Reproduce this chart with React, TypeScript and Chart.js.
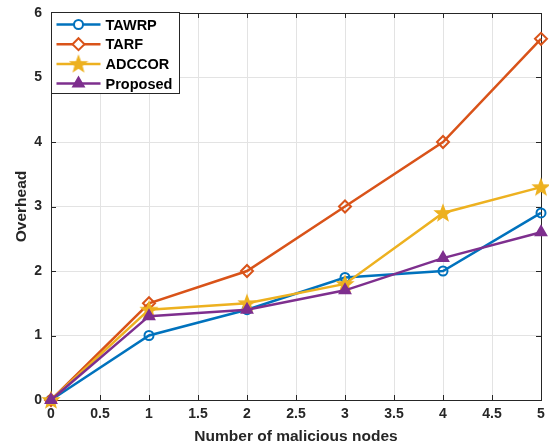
import React, { useEffect, useRef } from "react";
import { Chart, registerables } from "chart.js";

Chart.register(...registerables);

const X_VALUES = [0, 1, 2, 3, 4, 5];
const TAWRP = [0, 1.0, 1.4, 1.9, 2.0, 2.9];
const TARF = [0, 1.5, 2.0, 3.0, 4.0, 5.6];
const ADCCOR = [0, 1.4, 1.5, 1.8, 2.9, 3.3];
const PROPOSED = [0, 1.3, 1.4, 1.7, 2.2, 2.6];
const SERIES_NAMES = ["TAWRP", "TARF", "ADCCOR", "Proposed"];
const X_TITLE = "Number of malicious nodes";
const Y_TITLE = "Overhead";

const COLORS = ["#0072BD", "#D95319", "#EDB120", "#7E2F8E"];
const FONT = "'Liberation Sans', Arial, Helvetica, sans-serif";
const TEXT = "#262626";

function makeStar(color: string, r: number): HTMLCanvasElement {
  const size = Math.ceil(r * 2 + 4);
  const c = document.createElement("canvas");
  c.width = size;
  c.height = size;
  const ctx = c.getContext("2d")!;
  const cx = size / 2, cy = size / 2 + 0.5;
  ctx.beginPath();
  for (let i = 0; i < 10; i++) {
    const ang = -Math.PI / 2 + (i * Math.PI) / 5;
    const rr = i % 2 === 0 ? r : r * 0.42;
    const px = cx + rr * Math.cos(ang);
    const py = cy + rr * Math.sin(ang);
    if (i === 0) ctx.moveTo(px, py);
    else ctx.lineTo(px, py);
  }
  ctx.closePath();
  ctx.fillStyle = color;
  ctx.fill();
  ctx.strokeStyle = color;
  ctx.lineWidth = 1.5;
  ctx.lineJoin = "miter";
  ctx.stroke();
  return c;
}

function drawMarker(ctx: CanvasRenderingContext2D, kind: number, x: number, y: number, color: string, star: HTMLCanvasElement) {
  ctx.save();
  ctx.strokeStyle = color;
  ctx.lineWidth = 2;
  ctx.fillStyle = "#ffffff";
  if (kind === 0) {
    ctx.beginPath();
    ctx.arc(x, y, 4.5, 0, Math.PI * 2);
    ctx.fill();
    ctx.stroke();
  } else if (kind === 1) {
    const r = 6;
    ctx.beginPath();
    ctx.moveTo(x, y - r);
    ctx.lineTo(x + r, y);
    ctx.lineTo(x, y + r);
    ctx.lineTo(x - r, y);
    ctx.closePath();
    ctx.fill();
    ctx.stroke();
  } else if (kind === 2) {
    ctx.drawImage(star, x - star.width / 2, y - star.height / 2);
  } else {
    const r = 6;
    ctx.beginPath();
    ctx.moveTo(x, y - r);
    ctx.lineTo(x + r * 0.87, y + r * 0.5);
    ctx.lineTo(x - r * 0.87, y + r * 0.5);
    ctx.closePath();
    ctx.fillStyle = color;
    ctx.fill();
    ctx.stroke();
  }
  ctx.restore();
}

export default function App() {
  const ref = useRef<HTMLCanvasElement>(null);

  useEffect(() => {
    document.body.style.margin = "0";
    const canvas = ref.current!;
    const star = makeStar(COLORS[2], 8);
    const allSeries = [TAWRP, TARF, ADCCOR, PROPOSED];
    const pointStyles: any[] = ["circle", "rectRot", star, "triangle"];

    const boxPlugin = {
      id: "matlabBox",
      beforeDatasetsDraw(chart: any) {
        const { ctx, chartArea } = chart;
        const { left, right, top, bottom } = chartArea;
        const xs = chart.scales.x;
        const ys = chart.scales.y;
        ctx.save();
        ctx.strokeStyle = TEXT;
        ctx.lineWidth = 1;
        ctx.strokeRect(Math.round(left) + 0.5, Math.round(top) + 0.5, Math.round(right - left), Math.round(bottom - top));
        ctx.beginPath();
        xs.ticks.forEach((t: any) => {
          const px = Math.round(xs.getPixelForValue(t.value)) + 0.5;
          ctx.moveTo(px, bottom);
          ctx.lineTo(px, bottom - 5);
          ctx.moveTo(px, top);
          ctx.lineTo(px, top + 5);
        });
        ys.ticks.forEach((t: any) => {
          const py = Math.round(ys.getPixelForValue(t.value)) + 0.5;
          ctx.moveTo(left, py);
          ctx.lineTo(left + 5, py);
          ctx.moveTo(right, py);
          ctx.lineTo(right - 5, py);
        });
        ctx.stroke();
        ctx.restore();
      },
      afterDraw(chart: any) {
        const { ctx, chartArea } = chart;
        const bx = Math.round(chartArea.left) + 0.5;
        const by = Math.round(chartArea.top) - 0.5;
        const bw = 128;
        const bh = 81;
        ctx.save();
        ctx.fillStyle = "#ffffff";
        ctx.fillRect(bx, by, bw, bh);
        ctx.strokeStyle = TEXT;
        ctx.lineWidth = 1;
        ctx.strokeRect(bx, by, bw, bh);
        ctx.font = `bold 14.5px ${FONT}`;
        ctx.textBaseline = "middle";
        ctx.textAlign = "left";
        SERIES_NAMES.forEach((name, i) => {
          const y = by + 12 + i * 19.7;
          ctx.strokeStyle = COLORS[i];
          ctx.lineWidth = 2.5;
          ctx.beginPath();
          ctx.moveTo(bx + 5, y);
          ctx.lineTo(bx + 49, y);
          ctx.stroke();
          drawMarker(ctx, i, bx + 27, y, COLORS[i], star);
          ctx.fillStyle = "#000000";
          ctx.fillText(name, bx + 54, y + 1);
        });
        ctx.restore();
      },
    };

    const chart = new Chart(canvas, {
      type: "line",
      data: {
        datasets: allSeries.map((s, i) => ({
          label: SERIES_NAMES[i],
          data: X_VALUES.map((x, j) => ({ x, y: s[j] })),
          borderColor: COLORS[i],
          backgroundColor: COLORS[i],
          borderWidth: 2.5,
          pointStyle: pointStyles[i],
          pointRadius: i === 0 ? 4.5 : 6,
          pointBorderWidth: 2,
          pointBorderColor: COLORS[i],
          pointBackgroundColor: i === 3 ? COLORS[i] : "rgba(255,255,255,0)",
          tension: 0,
          fill: false,
          order: 3 - i,
          clip: false as any,
        })),
      },
      options: {
        animation: false,
        responsive: false,
        maintainAspectRatio: false,
        layout: { padding: { left: 0, top: 13, right: 6, bottom: 0 } },
        plugins: {
          legend: { display: false },
          tooltip: { enabled: false },
        },
        scales: {
          x: {
            type: "linear",
            min: 0,
            max: 5,
            ticks: {
              stepSize: 0.5,
              color: TEXT,
              font: { family: FONT, size: 14, weight: "bold" },
              padding: 6,
              maxRotation: 0,
              autoSkip: false,
              callback: (v: any) => String(Number(v)),
            },
            grid: { color: "#e3e3e3", drawTicks: false, lineWidth: 1 },
            border: { display: false },
            title: {
              display: true,
              text: X_TITLE,
              color: TEXT,
              font: { family: FONT, size: 15.5, weight: "bold" },
              padding: { top: 0, bottom: 2 },
            },
            afterFit(scale: any) {
              scale.height = 48;
              scale.paddingLeft = 0;
              scale.paddingRight = 0;
            },
          },
          y: {
            type: "linear",
            min: 0,
            max: 6,
            ticks: {
              stepSize: 1,
              color: TEXT,
              font: { family: FONT, size: 14, weight: "bold" },
              padding: 9,
              callback: (v: any) => String(Number(v)),
            },
            grid: { color: "#e3e3e3", drawTicks: false, lineWidth: 1 },
            border: { display: false },
            title: {
              display: true,
              text: Y_TITLE,
              color: TEXT,
              font: { family: FONT, size: 15.5, weight: "bold" },
              padding: { top: 12, bottom: 0 },
            },
            afterFit(scale: any) {
              scale.width = 51;
              scale.paddingTop = 0;
              scale.paddingBottom = 0;
            },
          },
        },
      } as any,
      plugins: [boxPlugin],
    });
    return () => chart.destroy();
  }, []);

  return (
    <div style={{ position: "absolute", left: 0, top: 0, width: 549, height: 448 }}>
      <canvas ref={ref} width={549} height={448} style={{ width: 549, height: 448 }} />
    </div>
  );
}
